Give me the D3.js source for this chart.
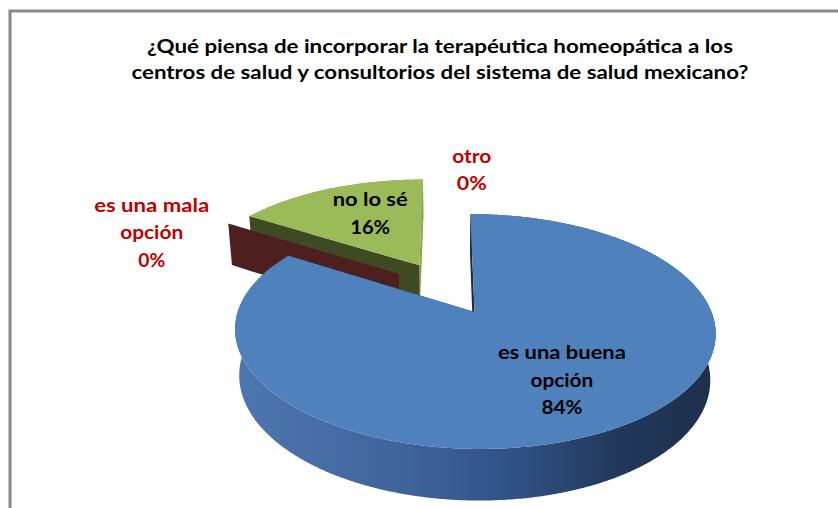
<!DOCTYPE html>
<html>
<head>
<meta charset="utf-8">
<script src="https://cdn.jsdelivr.net/npm/d3@7"></script>
<style>
  html, body { margin: 0; padding: 0; background: #ffffff; }
  svg { display: block; }
  text { font-family: Lato, "Open Sans", "Noto Sans", sans-serif; font-weight: bold; }
</style>
</head>
<body>
<svg id="chart" width="838" height="508"></svg>
<script>
// Survey question and answers
const titleLines = [
  "¿Qué piensa de incorporar la terapéutica homeopática a los",
  "centros de salud y consultorios del sistema de salud mexicano?"
];
const categories = ["es una buena opción", "es una mala opción", "no lo sé", "otro"];
const values = [84, 0, 16, 0];                       // percent of answers
const categoryLines = [["es una buena", "opción"], ["es una mala", "opción"], ["no lo sé"], ["otro"]];

// Slice colours: top face, the shaded leading wall and the lit trailing wall
const topColors      = ["#4f81bd", "#c0504d", "#9bbb59", "#8064a2"];
const startWallColor = ["#1c2c46", "#4e1f1f", "#3e4a21", "#3a2d52"];
const endWallColor   = ["#1f3251", "#4e1f1f", "#8aa64f", "#3a2d52"];

// Label layout: radius (in pie radii, from the exploded slice centre) and angular nudge
const labelRadius = [0.635, 1.264, 0.623, 1.11];
const labelNudge  = [-1.9, -10.5, 4.8, 5.8];          // degrees
const labelWidths = [[128, 63, 41], [115, 63, 27], [75, 40], [39, 30]];

const svg = d3.select("#chart");

// Chart frame
svg.append("rect")
  .attr("x", 10).attr("y", 11)
  .attr("width", 900).attr("height", 600)
  .attr("fill", "none")
  .attr("stroke", "#8a8a8a")
  .attr("stroke-width", 3);

// Title
const titleWidths = [586, 617];
svg.append("g").selectAll("text")
  .data(titleLines)
  .join("text")
  .attr("x", 440)
  .attr("y", (d, i) => 53 + i * 26)
  .attr("text-anchor", "middle")
  .attr("font-size", 19)
  .attr("fill", "#000")
  .attr("textLength", (d, i) => titleWidths[i])
  .attr("lengthAdjust", "spacingAndGlyphs")
  .text(d => d);

// Perspective camera looking down on the pie
const cam = { cx: 446, cy: 287.8, F: 1257, D: 5.5, phi: 27.7 * Math.PI / 180 };
const thickness = 0.225, explode = 0.25;
const sinP = Math.sin(cam.phi), cosP = Math.cos(cam.phi);

function project(u, v, h) {
  const z = cam.D + v * cosP - h * sinP;
  return [cam.cx + cam.F * u / z, cam.cy - cam.F * (v * sinP + h * cosP) / z];
}
// point on the pie plane: angle clockwise from the far side, radius r, around centre c
function onPlane(a, r, c) {
  return [c[0] + r * Math.sin(a), c[1] + r * Math.cos(a)];
}

const pie = d3.pie().sort(null).value(d => d)(values);
const line = d3.line();

const slices = pie.map((p, i) => {
  const mid = (p.startAngle + p.endAngle) / 2;
  const centre = [explode * Math.sin(mid), explode * Math.cos(mid)];
  return { ...p, i, mid, centre };
});

// Paint farthest slices first
const order = slices.slice().sort((a, b) => b.centre[1] - a.centre[1]);

function rimPoints(s, a0, a1, h) {
  const n = Math.max(2, Math.ceil(Math.abs(a1 - a0) / (Math.PI / 360)));
  const pts = [];
  for (let k = 0; k <= n; k++) {
    const a = a0 + (a1 - a0) * k / n;
    const q = onPlane(a, 1, s.centre);
    pts.push(project(q[0], q[1], h));
  }
  return pts;
}

function wallPath(c, a, rIn, rOut) {
  const p0 = onPlane(a, rIn, c), p1 = onPlane(a, rOut, c);
  return line([
    project(p0[0], p0[1], 0), project(p1[0], p1[1], 0),
    project(p1[0], p1[1], -thickness), project(p0[0], p0[1], -thickness)
  ]) + "Z";
}

// Horizontal shading of the blue curved side
const defs = svg.append("defs");
const grad = defs.append("linearGradient")
  .attr("id", "sideShade")
  .attr("gradientUnits", "userSpaceOnUse")
  .attr("x1", 234).attr("x2", 714).attr("y1", 0).attr("y2", 0);
[[0, "#4d76b0"], [0.3, "#42679f"], [0.55, "#33548a"], [0.8, "#22385b"], [1, "#1e2f4b"]]
  .forEach(([o, c]) => grad.append("stop").attr("offset", o).attr("stop-color", c));

const gPie = svg.append("g");

order.forEach(s => {
  const g = gPie.append("g").attr("class", "slice");
  if (s.value === 0) {
    // empty slice: only its radial wall, pushed out along its own direction
    g.append("path")
      .attr("d", wallPath([0, 0], s.startAngle, explode, explode + 1))
      .attr("fill", startWallColor[s.i]);
    return;
  }
  // curved outer side
  const topRim = rimPoints(s, s.startAngle, s.endAngle, 0);
  const botRim = rimPoints(s, s.endAngle, s.startAngle, -thickness);
  g.append("path")
    .attr("d", line(topRim.concat(botRim)) + "Z")
    .attr("fill", s.i === 0 ? "url(#sideShade)" : endWallColor[s.i]);
  // radial walls
  g.append("path").attr("d", wallPath(s.centre, s.endAngle, 0, 1))
    .attr("fill", endWallColor[s.i]);
  g.append("path").attr("d", wallPath(s.centre, s.startAngle, 0, 1))
    .attr("fill", startWallColor[s.i]);
  // top face
  const apex = project(s.centre[0], s.centre[1], 0);
  g.append("path")
    .attr("d", line([apex].concat(topRim)) + "Z")
    .attr("fill", topColors[s.i]);
});

// Data labels
const gLab = svg.append("g");
slices.forEach(s => {
  const empty = s.value === 0;
  const a = (empty ? s.startAngle : s.mid) + labelNudge[s.i] * Math.PI / 180;
  const q = empty ? onPlane(a, labelRadius[s.i] + explode, [0, 0])
                  : onPlane(a, labelRadius[s.i], s.centre);
  const [x, y] = project(q[0], q[1], 0);
  const lines = categoryLines[s.i].concat([d3.format(".0%")(s.value / 100)]);
  const lh = 27.5;
  const y0 = y - (lines.length - 1) * lh / 2 + 6.5;
  gLab.append("g").selectAll("text")
    .data(lines)
    .join("text")
    .attr("x", x)
    .attr("y", (d, k) => y0 + k * lh)
    .attr("text-anchor", "middle")
    .attr("font-size", 18.5)
    .attr("fill", empty ? "#c00000" : "#000000")
    .attr("textLength", (d, k) => labelWidths[s.i][k])
    .attr("lengthAdjust", "spacingAndGlyphs")
    .text(d => d);
});
</script>
</body>
</html>
